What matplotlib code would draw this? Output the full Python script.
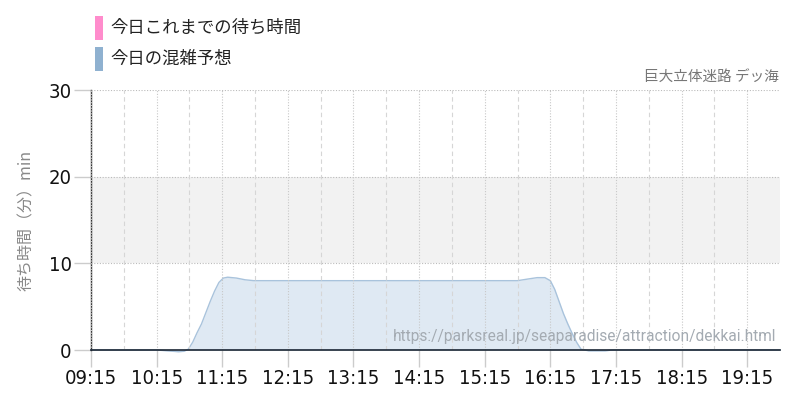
import matplotlib
matplotlib.use("Agg")
import matplotlib.pyplot as plt
from matplotlib.patches import Rectangle
import numpy as np

plt.rcParams['font.family'] = ['Noto Sans CJK JP', 'DejaVu Sans']

# ---- data ----
legend_labels = ["今日これまでの待ち時間", "今日の混雑予想"]
legend_colors = ["#ff8ccc", "#8fb1d0"]
title_text = "巨大立体迷路 デッ海"
ylabel_text = "待ち時間（分）min"
url_text = "https://parksreal.jp/seaparadise/attraction/dekkai.html"

forecast_times = ["09:15", "09:45", "10:15", "10:25", "10:35", "10:40", "10:44", "10:48",
                  "10:52", "10:56", "11:00", "11:04", "11:08", "11:12", "11:16", "11:20",
                  "11:28", "11:36", "11:44", "12:15", "13:15", "14:15", "15:15", "15:45",
                  "15:55", "16:03", "16:10", "16:15", "16:19", "16:23", "16:27", "16:31",
                  "16:35", "16:39", "16:43", "16:50", "17:05", "17:12", "18:15", "19:45"]
forecast_values = [0.0, 0.0, 0.0, -0.1, -0.2, -0.15, 0.1, 0.9,
                   2.0, 3.0, 4.3, 5.6, 6.8, 7.8, 8.3, 8.4,
                   8.3, 8.1, 8.0, 8.0, 8.0, 8.0, 8.0, 8.0,
                   8.2, 8.35, 8.35, 8.0, 7.0, 5.6, 4.2, 3.0,
                   1.9, 0.9, 0.1, -0.1, -0.1, 0.0, 0.0, 0.0]

xtick_labels = ["09:15", "10:15", "11:15", "12:15", "13:15", "14:15",
                "15:15", "16:15", "17:15", "18:15", "19:15"]
yticks = [0, 10, 20, 30]
band = (10, 20)
x_range = ("09:15", "19:45")


def to_h(s):
    h, m = s.split(":")
    return int(h) + int(m) / 60.0


fx = np.array([to_h(t) for t in forecast_times])
fy = np.array(forecast_values)
xt = [to_h(t) for t in xtick_labels]
xmin, xmax = to_h(x_range[0]), to_h(x_range[1])

fig = plt.figure(figsize=(8, 4), dpi=100)
ax = fig.add_axes([91 / 800, 50 / 400, (780 - 91) / 800, (350 - 90) / 400])

ax.set_xlim(xmin, xmax)
ax.set_ylim(0, 30)

ax.axhspan(band[0], band[1], color="#f2f2f2", zorder=0, lw=0)

ax.fill_between(fx, fy, 0, color="#dfe9f3", zorder=1, lw=0, clip_on=False)
ax.plot(fx, fy, color="#a9c3dc", lw=1.0, zorder=2, clip_on=False)

# grid
for v in yticks[1:]:
    ax.axhline(v, color="#bbbbbb", lw=0.8, ls=(0, (1, 1.5)), zorder=3)
for x in xt:
    ax.axvline(x, color="#c8c8c8", lw=0.8, ls=(0, (1, 1.5)), zorder=3)
for x in xt:
    xm = x + 0.5
    if xm < xmax:
        ax.axvline(xm, color="#d6d6d6", lw=0.8, ls=(0, (4, 3)), zorder=3)

for s in ["top", "right"]:
    ax.spines[s].set_visible(False)
ax.spines["left"].set_color("#333333")
ax.spines["left"].set_linewidth(1.0)
ax.spines["bottom"].set_color("#1a2533")
ax.spines["bottom"].set_linewidth(1.2)
ax.spines["bottom"].set_zorder(5)

ax.set_xticks(xt)
ax.set_xticklabels(xtick_labels)
ax.set_yticks(yticks)
ax.set_yticklabels([str(v) for v in yticks])
ax.tick_params(axis="both", length=12, color="#cccccc", width=1, pad=2,
               labelsize=14.5, labelcolor="#111111")
for lab in ax.get_xticklabels() + ax.get_yticklabels():
    lab.set_fontfamily(["DejaVu Sans"])
    lab.set_fontstretch("condensed")

ax.set_ylabel(ylabel_text, color="#888888", fontsize=11.5, labelpad=10)

ax.text(0.998, 1.02, title_text, transform=ax.transAxes, ha="right", va="bottom",
        color="#777777", fontsize=10.5)
ax.text(0.995, 0.05, url_text, transform=ax.transAxes, ha="right", va="center",
        color="#a4abb2", fontsize=11.2, zorder=6,
        family=["Roboto", "DejaVu Sans"])

# legend (figure coords)
for i, (lab, col) in enumerate(zip(legend_labels, legend_colors)):
    ytop = 16 + i * 31
    fig.add_artist(Rectangle((95 / 800, 1 - (ytop + 24) / 400), 8 / 800, 24 / 400,
                             transform=fig.transFigure, color=col, lw=0))
    fig.text(110 / 800, 1 - (ytop + 12) / 400, lab, ha="left", va="center",
             fontsize=12.5, color="#222222")

fig.savefig("out.png", dpi=100)
